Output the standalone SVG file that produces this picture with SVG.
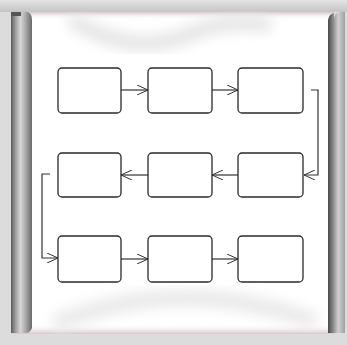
<svg xmlns="http://www.w3.org/2000/svg" width="347" height="345" viewBox="0 0 347 345">
<defs>
<linearGradient id="frameTop" x1="0" y1="0" x2="0" y2="1">
<stop offset="0" stop-color="#e4e4e4"/><stop offset="1" stop-color="#c4c4c4"/>
</linearGradient>
<linearGradient id="roll" x1="0" y1="0" x2="1" y2="0">
<stop offset="0" stop-color="#5a5a5a"/><stop offset="0.2" stop-color="#9a9a9a"/><stop offset="0.45" stop-color="#d6d6d6"/><stop offset="0.7" stop-color="#a8a8a8"/><stop offset="1" stop-color="#6a6a6a"/>
</linearGradient>
<linearGradient id="rollR" x1="0" y1="0" x2="1" y2="0">
<stop offset="0" stop-color="#4a4a4a"/><stop offset="0.3" stop-color="#8a8a8a"/><stop offset="0.6" stop-color="#d0d0d0"/><stop offset="1" stop-color="#a0a0a0"/>
</linearGradient>
<linearGradient id="pinkTop" x1="0" y1="0" x2="0" y2="1">
<stop offset="0" stop-color="#d8c8cc"/><stop offset="1" stop-color="#ffffff" stop-opacity="0"/>
</linearGradient>
<linearGradient id="pinkBot" x1="0" y1="1" x2="0" y2="0">
<stop offset="0" stop-color="#d8c4c8"/><stop offset="1" stop-color="#ffffff" stop-opacity="0"/>
</linearGradient>
<filter id="blur" x="-20%" y="-50%" width="140%" height="200%"><feGaussianBlur stdDeviation="7"/></filter>
<marker id="arr" viewBox="0 0 12 10" refX="11" refY="5" markerWidth="12" markerHeight="10" markerUnits="userSpaceOnUse" orient="auto">
<path d="M0,0 L11,5 L0,10" fill="none" stroke="#333" stroke-width="1"/>
</marker>
<style>
.box{fill:#fff;stroke:#2a2a2a;stroke-width:1.3}
.con{fill:none;stroke:#333;stroke-width:1.2}
</style>
</defs>
<rect x="0" y="0" width="347" height="345" fill="#dcdcdc"/>
<rect x="0" y="0" width="347" height="12" fill="url(#frameTop)"/>
<rect x="12" y="12" width="322" height="322" fill="#ffffff"/>
<rect x="12" y="12" width="322" height="8" fill="url(#pinkTop)"/>
<rect x="12" y="324" width="322" height="10" fill="url(#pinkBot)"/>
<path d="M75,22 Q140,60 200,30 Q230,20 265,24" fill="none" stroke="#e2e2e2" stroke-width="14" stroke-linecap="round" filter="url(#blur)"/>
<path d="M60,322 Q180,275 310,320" fill="none" stroke="#e8e8e8" stroke-width="16" stroke-linecap="round" filter="url(#blur)"/>
<path d="M11,16 Q11,12 15,12 L28,12 Q32,14 32,20 L32,328 Q30,333 26,333 L11,333 Z" fill="url(#roll)"/>
<rect x="11" y="12" width="10" height="4" fill="#555"/>
<path d="M334,20 Q334,13 340,12 L345,12 L345,333 L328,333 L328,20 Q329,14 334,13 Z" fill="url(#rollR)"/>
<g id="connectors">
<line class="con" x1="121" y1="90" x2="148" y2="90" marker-end="url(#arr)"/>
<line class="con" x1="212" y1="90" x2="238" y2="90" marker-end="url(#arr)"/>
<polyline class="con" points="311,90 318,90 318,175 304,175" marker-end="url(#arr)"/>
<line class="con" x1="238" y1="175" x2="212" y2="175" marker-end="url(#arr)"/>
<line class="con" x1="148" y1="175" x2="121" y2="175" marker-end="url(#arr)"/>
<polyline class="con" points="50,174 42,174 42,258 58,258" marker-end="url(#arr)"/>
<line class="con" x1="121" y1="259" x2="148" y2="259" marker-end="url(#arr)"/>
<line class="con" x1="212" y1="259" x2="238" y2="259" marker-end="url(#arr)"/>
</g>
<g id="n1"><rect class="box" x="58" y="68" width="63" height="45" rx="4"/></g>
<g id="n2"><rect class="box" x="148" y="68" width="64" height="45" rx="4"/></g>
<g id="n3"><rect class="box" x="238" y="68" width="65" height="45" rx="4"/></g>
<g id="n4"><rect class="box" x="238" y="153" width="65" height="44" rx="4"/></g>
<g id="n5"><rect class="box" x="148" y="153" width="64" height="44" rx="4"/></g>
<g id="n6"><rect class="box" x="58" y="153" width="63" height="44" rx="4"/></g>
<g id="n7"><rect class="box" x="58" y="236" width="63" height="46" rx="4"/></g>
<g id="n8"><rect class="box" x="148" y="236" width="64" height="46" rx="4"/></g>
<g id="n9"><rect class="box" x="238" y="236" width="65" height="46" rx="4"/></g>
</svg>
